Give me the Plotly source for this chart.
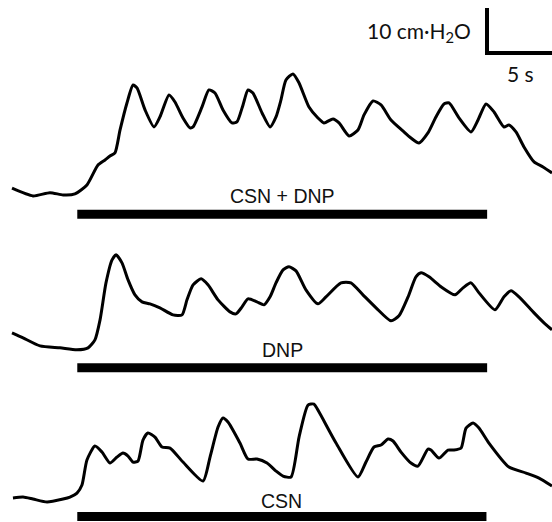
import plotly.graph_objects as go

# ---- data (time in s, pressure in cmH2O relative to each trace's baseline) ----
t_csn_dnp = [0.87, 2.39, 3.62, 4.57, 5.43, 6.30, 7.10, 7.61, 7.97, 8.33, 8.70, 9.20, 9.64, 9.93,
             10.51, 11.16, 11.59, 12.25, 12.68, 13.26, 13.77, 13.99, 14.64, 15.14, 15.58, 16.16,
             16.81, 17.17, 17.61, 17.97, 18.33, 18.99, 19.57, 20.00, 20.36, 20.72, 21.23, 21.67,
             22.39, 23.04, 23.48, 24.13, 24.57, 25.29, 25.94, 26.38, 27.03, 27.61, 28.33, 29.20,
             29.78, 30.36, 31.01, 31.59, 32.17, 32.54, 33.26, 34.13, 34.64, 35.22, 35.80, 36.52,
             36.88, 37.39, 37.97, 38.70, 39.35, 40.00]
p_csn_dnp = [1.27, -0.44, 0.29, -0.22, 0.0, 2.0, 6.44, 7.56, 8.44, 9.11, 14.22, 20.22, 24.22, 23.56,
             18.67, 14.89, 17.11, 22.0, 20.44, 16.89, 14.67, 14.89, 19.33, 23.11, 22.44, 18.67,
             15.78, 16.0, 19.78, 23.11, 22.44, 18.0, 14.89, 17.11, 20.89, 25.33, 26.67, 24.67,
             19.33, 16.89, 15.78, 16.67, 15.78, 12.89, 14.22, 17.56, 20.67, 19.78, 16.44, 14.0,
             12.44, 11.33, 13.56, 17.11, 20.0, 20.22, 16.89, 13.78, 16.44, 20.0, 18.22, 14.89,
             15.33, 13.78, 10.44, 7.11, 6.0, 4.67]

t_dnp = [0.87, 1.67, 2.90, 4.35, 5.58, 6.38, 6.88, 7.25, 7.68, 8.12, 8.41, 8.84, 9.28, 9.78,
         10.29, 10.87, 11.59, 12.54, 13.19, 13.55, 13.99, 14.57, 15.07, 15.80, 16.67, 17.10,
         17.54, 17.97, 18.62, 19.13, 19.57, 20.00, 20.51, 20.94, 21.45, 22.17, 23.04, 23.62,
         24.71, 25.43, 26.30, 27.25, 28.33, 28.91, 29.57, 30.14, 30.51, 31.09, 31.96, 32.97,
         33.55, 34.13, 34.71, 35.87, 36.52, 37.03, 37.61, 38.70, 39.42, 40.00]
p_dnp = [3.33, 2.22, 0.44, 0.0, -0.44, 0.0, 1.78, 6.22, 14.44, 19.56, 20.67, 18.89, 15.11, 11.78,
         10.22, 9.78, 8.89, 7.33, 7.33, 10.67, 14.0, 15.33, 14.0, 10.67, 8.0, 7.56,
         9.11, 10.89, 10.22, 9.56, 11.33, 14.44, 17.33, 18.0, 17.11, 12.89, 9.78, 11.33,
         14.44, 14.44, 11.78, 8.89, 6.0, 7.11, 11.33, 15.78, 16.67, 15.78, 13.56, 11.78,
         13.33, 14.44, 12.22, 8.44, 11.33, 12.67, 11.33, 7.78, 5.56, 4.0]

t_csn = [0.94, 1.67, 2.39, 3.41, 4.57, 5.07, 5.58, 5.94, 6.30, 6.88, 7.39, 7.97, 8.48, 8.91,
         9.28, 9.64, 10.00, 10.36, 10.72, 11.23, 11.74, 12.32, 13.26, 14.71, 15.22, 15.80,
         16.16, 16.52, 17.39, 17.97, 18.62, 19.35, 20.00, 20.51, 21.09, 21.67, 22.32, 22.75,
         23.12, 24.35, 25.94, 26.52, 27.10, 27.61, 28.12, 28.48, 29.06, 29.78, 30.29, 31.01,
         31.23, 31.81, 32.46, 32.90, 33.41, 33.77, 34.28, 34.71, 35.43, 36.88, 38.12, 39.06, 40.00]
p_csn = [0.22, 0.44, 0.0, -0.67, 0.0, 0.44, 1.33, 3.11, 8.67, 11.78, 10.44, 8.0, 9.33, 10.22,
         9.56, 8.22, 8.44, 13.11, 14.67, 13.78, 11.56, 11.33, 8.22, 4.0, 9.33, 16.0,
         18.0, 17.11, 12.44, 8.89, 8.89, 8.0, 6.22, 5.11, 4.89, 13.78, 20.89, 21.11,
         19.33, 12.44, 4.89, 8.22, 11.56, 12.0, 13.33, 12.89, 10.44, 8.0, 7.33, 11.11,
         10.89, 9.11, 10.89, 10.89, 11.33, 15.78, 16.89, 15.78, 12.44, 7.11, 5.78, 4.67, 2.89]

labels = ["CSN + DNP", "DNP", "CSN"]
stim_start = [5.6, 5.6, 5.6]     # s
stim_end = [35.3, 35.3, 35.25]   # s
scale_pressure = 10   # cmH2O
scale_time = 5        # s
scale_p_label = "10 cm·H<sub>2</sub>O"
scale_t_label = "5 s"

# ---- layout positions (cmH2O on the shared y axis) ----
offsets = [72.9, 38.7, 5.1]
bar_centers = [68.4, 34.3, 1.2]
label_y = [72.4, 38.2, 4.6]
bar_half = 1.0

fig = go.Figure()
series = [(t_csn_dnp, p_csn_dnp), (t_dnp, p_dnp), (t_csn, p_csn)]
for (t, p), off, name in zip(series, offsets, labels):
    fig.add_trace(go.Scatter(x=t, y=[v + off for v in p], mode="lines",
                             line=dict(color="black", width=3, shape="spline", smoothing=0.6),
                             name=name, showlegend=False, hoverinfo="skip"))

for s, e, bc, ly, name in zip(stim_start, stim_end, bar_centers, label_y, labels):
    fig.add_shape(type="rect", x0=s, x1=e, y0=bc - bar_half, y1=bc + bar_half,
                  fillcolor="black", line=dict(width=0))
    fig.add_annotation(x=(s + e) / 2, y=ly, text=name, showarrow=False,
                       xanchor="center", yanchor="middle",
                       font=dict(family="Liberation Sans, Arial", size=19.5, color="#111"))

# scale bar
sx, sy = 35.29, 104.2
fig.add_trace(go.Scatter(x=[sx, sx, sx + scale_time], y=[sy + scale_pressure, sy, sy],
                         mode="lines", line=dict(color="black", width=4),
                         showlegend=False, hoverinfo="skip"))
fig.add_annotation(x=34.3, y=109.0, text=scale_p_label, showarrow=False,
                   xanchor="right", yanchor="middle",
                   font=dict(family="Lato, Open Sans", size=21, color="#111"))
fig.add_annotation(x=37.7, y=99.7, text=scale_t_label, showarrow=False,
                   xanchor="center", yanchor="middle",
                   font=dict(family="Lato, Open Sans", size=21, color="#111"))

fig.update_layout(width=552, height=522, margin=dict(l=0, r=0, t=0, b=0),
                  paper_bgcolor="white", plot_bgcolor="white",
                  xaxis=dict(range=[0, 40], visible=False, fixedrange=True),
                  yaxis=dict(range=[0, 116], visible=False, fixedrange=True))
fig.write_html("out.html", config={"displayModeBar": False},
               post_script="document.body.style.margin='0';")
